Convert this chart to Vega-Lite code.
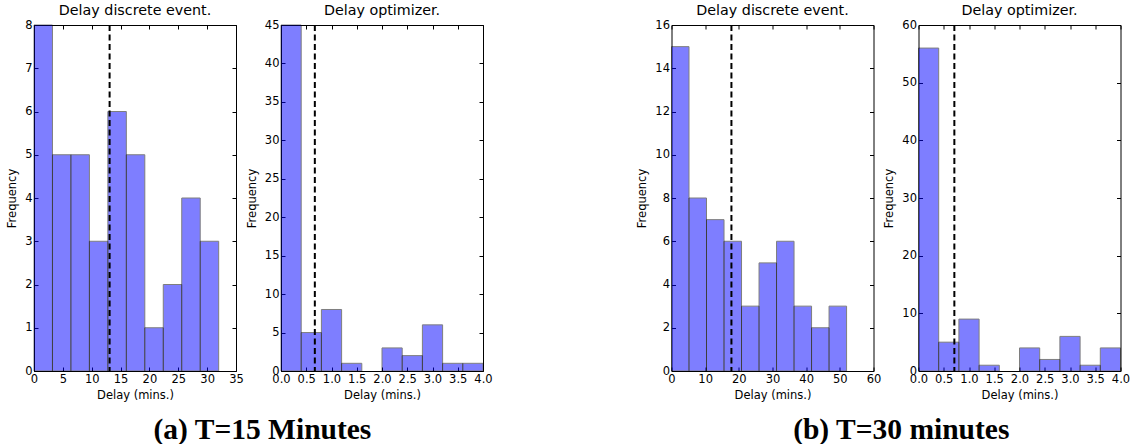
{
  "$schema": "https://vega.github.io/schema/vega-lite/v6.json",
  "padding": {"left": 6, "top": 3, "right": 3, "bottom": 0},
  "config": {
    "font": "DejaVu Sans",
    "view": {"stroke": "black", "strokeWidth": 1},
    "axis": {
      "grid": false, "domain": false, "tickSize": -4, "tickColor": "black",
      "labelFontSize": 11.5, "labelColor": "black",
      "labelFlush": false, "labelOverlap": false,
      "titleFontSize": 11.5, "titleFontWeight": "normal", "titleColor": "black"
    },
    "axisY": {"titlePadding": 7, "labelPadding": 6},
    "axisX": {"titlePadding": 5, "labelPadding": 6},
    "title": {"fontSize": 14.3, "fontWeight": "normal", "offset": 1, "color": "black"},
    "concat": {"spacing": 1}
  },
  "datasets": {
    "p1": [
      {"start": 0, "end": 3.2, "count": 8}, {"start": 3.2, "end": 6.4, "count": 5},
      {"start": 6.4, "end": 9.6, "count": 5}, {"start": 9.6, "end": 12.8, "count": 3},
      {"start": 12.8, "end": 16, "count": 6}, {"start": 16, "end": 19.2, "count": 5},
      {"start": 19.2, "end": 22.4, "count": 1}, {"start": 22.4, "end": 25.6, "count": 2},
      {"start": 25.6, "end": 28.8, "count": 4}, {"start": 28.8, "end": 32, "count": 3}
    ],
    "p2": [
      {"start": 0, "end": 0.4, "count": 45}, {"start": 0.4, "end": 0.8, "count": 5},
      {"start": 0.8, "end": 1.2, "count": 8}, {"start": 1.2, "end": 1.6, "count": 1},
      {"start": 2.0, "end": 2.4, "count": 3}, {"start": 2.4, "end": 2.8, "count": 2},
      {"start": 2.8, "end": 3.2, "count": 6}, {"start": 3.2, "end": 3.6, "count": 1},
      {"start": 3.6, "end": 4.0, "count": 1}
    ],
    "p3": [
      {"start": 0, "end": 5.2, "count": 15}, {"start": 5.2, "end": 10.4, "count": 8},
      {"start": 10.4, "end": 15.6, "count": 7}, {"start": 15.6, "end": 20.8, "count": 6},
      {"start": 20.8, "end": 26, "count": 3}, {"start": 26, "end": 31.2, "count": 5},
      {"start": 31.2, "end": 36.4, "count": 6}, {"start": 36.4, "end": 41.6, "count": 3},
      {"start": 41.6, "end": 46.8, "count": 2}, {"start": 46.8, "end": 52, "count": 3}
    ],
    "p4": [
      {"start": 0, "end": 0.4, "count": 56}, {"start": 0.4, "end": 0.8, "count": 5},
      {"start": 0.8, "end": 1.2, "count": 9}, {"start": 1.2, "end": 1.6, "count": 1},
      {"start": 2.0, "end": 2.4, "count": 4}, {"start": 2.4, "end": 2.8, "count": 2},
      {"start": 2.8, "end": 3.2, "count": 6}, {"start": 3.2, "end": 3.6, "count": 1},
      {"start": 3.6, "end": 4.0, "count": 4}
    ],
    "m1": [{"mean": 13.1}],
    "m2": [{"mean": 0.67}],
    "m3": [{"mean": 17.8}],
    "m4": [{"mean": 0.71}]
  },
  "spacing": 142.5,
  "hconcat": [
    {
      "title": {"text": "(a) T=15 Minutes", "orient": "bottom", "anchor": "middle", "font": "Liberation Serif", "fontWeight": "bold", "fontSize": 29.5, "offset": 14, "dx": 13},
      "hconcat": [
        {
          "width": 202, "height": 346,
          "title": "Delay discrete event.",
          "resolve": {"axis": {"x": "independent", "y": "independent"}},
          "layer": [
            {
              "data": {"name": "p1"},
              "mark": {"type": "bar", "fill": "#0000ff", "stroke": "black", "strokeWidth": 1, "opacity": 0.5},
              "encoding": {
                "x": {"field": "start", "type": "quantitative", "scale": {"domain": [0, 35], "nice": false, "zero": false}, "axis": {"values": [0,5,10,15,20,25,30,35], "title": "Delay (mins.)"}},
                "x2": {"field": "end"},
                "y": {"field": "count", "type": "quantitative", "scale": {"domain": [0, 8], "nice": false}, "axis": {"values": [0,1,2,3,4,5,6,7,8], "title": "Frequency"}},
                "y2": {"datum": 0}
              }
            },
            {
              "data": {"name": "p1"},
              "mark": {"type": "point", "opacity": 0, "size": 0, "clip": true},
              "encoding": {
                "x": {"field": "start", "type": "quantitative", "scale": {"domain": [0, 35], "nice": false, "zero": false}, "axis": {"orient": "top", "values": [0,5,10,15,20,25,30,35], "labels": false, "title": null}},
                "y": {"field": "count", "type": "quantitative", "scale": {"domain": [0, 8], "nice": false}, "axis": {"orient": "right", "values": [0,1,2,3,4,5,6,7,8], "labels": false, "title": null}}
              }
            },
            {
              "data": {"name": "m1"},
              "mark": {"type": "rule", "color": "black", "strokeWidth": 2, "strokeDash": [6, 3.5]},
              "encoding": {"x": {"field": "mean", "type": "quantitative", "scale": {"domain": [0, 35], "nice": false, "zero": false}, "axis": null}}
            }
          ]
        },
        {
          "width": 202, "height": 346,
          "title": "Delay optimizer.",
          "resolve": {"axis": {"x": "independent", "y": "independent"}},
          "layer": [
            {
              "data": {"name": "p2"},
              "mark": {"type": "bar", "fill": "#0000ff", "stroke": "black", "strokeWidth": 1, "opacity": 0.5},
              "encoding": {
                "x": {"field": "start", "type": "quantitative", "scale": {"domain": [0, 4], "nice": false, "zero": false}, "axis": {"values": [0,0.5,1,1.5,2,2.5,3,3.5,4], "format": ".1f", "title": "Delay (mins.)"}},
                "x2": {"field": "end"},
                "y": {"field": "count", "type": "quantitative", "scale": {"domain": [0, 45], "nice": false}, "axis": {"values": [0,5,10,15,20,25,30,35,40,45], "title": "Frequency"}},
                "y2": {"datum": 0}
              }
            },
            {
              "data": {"name": "p2"},
              "mark": {"type": "point", "opacity": 0, "size": 0, "clip": true},
              "encoding": {
                "x": {"field": "start", "type": "quantitative", "scale": {"domain": [0, 4], "nice": false, "zero": false}, "axis": {"orient": "top", "values": [0,0.5,1,1.5,2,2.5,3,3.5,4], "labels": false, "title": null}},
                "y": {"field": "count", "type": "quantitative", "scale": {"domain": [0, 45], "nice": false}, "axis": {"orient": "right", "values": [0,5,10,15,20,25,30,35,40,45], "labels": false, "title": null}}
              }
            },
            {
              "data": {"name": "m2"},
              "mark": {"type": "rule", "color": "black", "strokeWidth": 2, "strokeDash": [6, 3.5]},
              "encoding": {"x": {"field": "mean", "type": "quantitative", "scale": {"domain": [0, 4], "nice": false, "zero": false}, "axis": null}}
            }
          ]
        }
      ]
    },
    {
      "title": {"text": "(b) T=30 minutes", "orient": "bottom", "anchor": "middle", "font": "Liberation Serif", "fontWeight": "bold", "fontSize": 29.5, "offset": 14, "dx": 18},
      "hconcat": [
        {
          "width": 202, "height": 346,
          "title": "Delay discrete event.",
          "resolve": {"axis": {"x": "independent", "y": "independent"}},
          "layer": [
            {
              "data": {"name": "p3"},
              "mark": {"type": "bar", "fill": "#0000ff", "stroke": "black", "strokeWidth": 1, "opacity": 0.5},
              "encoding": {
                "x": {"field": "start", "type": "quantitative", "scale": {"domain": [0, 60], "nice": false, "zero": false}, "axis": {"values": [0,10,20,30,40,50,60], "title": "Delay (mins.)"}},
                "x2": {"field": "end"},
                "y": {"field": "count", "type": "quantitative", "scale": {"domain": [0, 16], "nice": false}, "axis": {"values": [0,2,4,6,8,10,12,14,16], "title": "Frequency"}},
                "y2": {"datum": 0}
              }
            },
            {
              "data": {"name": "p3"},
              "mark": {"type": "point", "opacity": 0, "size": 0, "clip": true},
              "encoding": {
                "x": {"field": "start", "type": "quantitative", "scale": {"domain": [0, 60], "nice": false, "zero": false}, "axis": {"orient": "top", "values": [0,10,20,30,40,50,60], "labels": false, "title": null}},
                "y": {"field": "count", "type": "quantitative", "scale": {"domain": [0, 16], "nice": false}, "axis": {"orient": "right", "values": [0,2,4,6,8,10,12,14,16], "labels": false, "title": null}}
              }
            },
            {
              "data": {"name": "m3"},
              "mark": {"type": "rule", "color": "black", "strokeWidth": 2, "strokeDash": [6, 3.5]},
              "encoding": {"x": {"field": "mean", "type": "quantitative", "scale": {"domain": [0, 60], "nice": false, "zero": false}, "axis": null}}
            }
          ]
        },
        {
          "width": 202, "height": 346,
          "title": "Delay optimizer.",
          "resolve": {"axis": {"x": "independent", "y": "independent"}},
          "layer": [
            {
              "data": {"name": "p4"},
              "mark": {"type": "bar", "fill": "#0000ff", "stroke": "black", "strokeWidth": 1, "opacity": 0.5},
              "encoding": {
                "x": {"field": "start", "type": "quantitative", "scale": {"domain": [0, 4], "nice": false, "zero": false}, "axis": {"values": [0,0.5,1,1.5,2,2.5,3,3.5,4], "format": ".1f", "title": "Delay (mins.)"}},
                "x2": {"field": "end"},
                "y": {"field": "count", "type": "quantitative", "scale": {"domain": [0, 60], "nice": false}, "axis": {"values": [0,10,20,30,40,50,60], "title": "Frequency"}},
                "y2": {"datum": 0}
              }
            },
            {
              "data": {"name": "p4"},
              "mark": {"type": "point", "opacity": 0, "size": 0, "clip": true},
              "encoding": {
                "x": {"field": "start", "type": "quantitative", "scale": {"domain": [0, 4], "nice": false, "zero": false}, "axis": {"orient": "top", "values": [0,0.5,1,1.5,2,2.5,3,3.5,4], "labels": false, "title": null}},
                "y": {"field": "count", "type": "quantitative", "scale": {"domain": [0, 60], "nice": false}, "axis": {"orient": "right", "values": [0,10,20,30,40,50,60], "labels": false, "title": null}}
              }
            },
            {
              "data": {"name": "m4"},
              "mark": {"type": "rule", "color": "black", "strokeWidth": 2, "strokeDash": [6, 3.5]},
              "encoding": {"x": {"field": "mean", "type": "quantitative", "scale": {"domain": [0, 4], "nice": false, "zero": false}, "axis": null}}
            }
          ]
        }
      ]
    }
  ]
}
